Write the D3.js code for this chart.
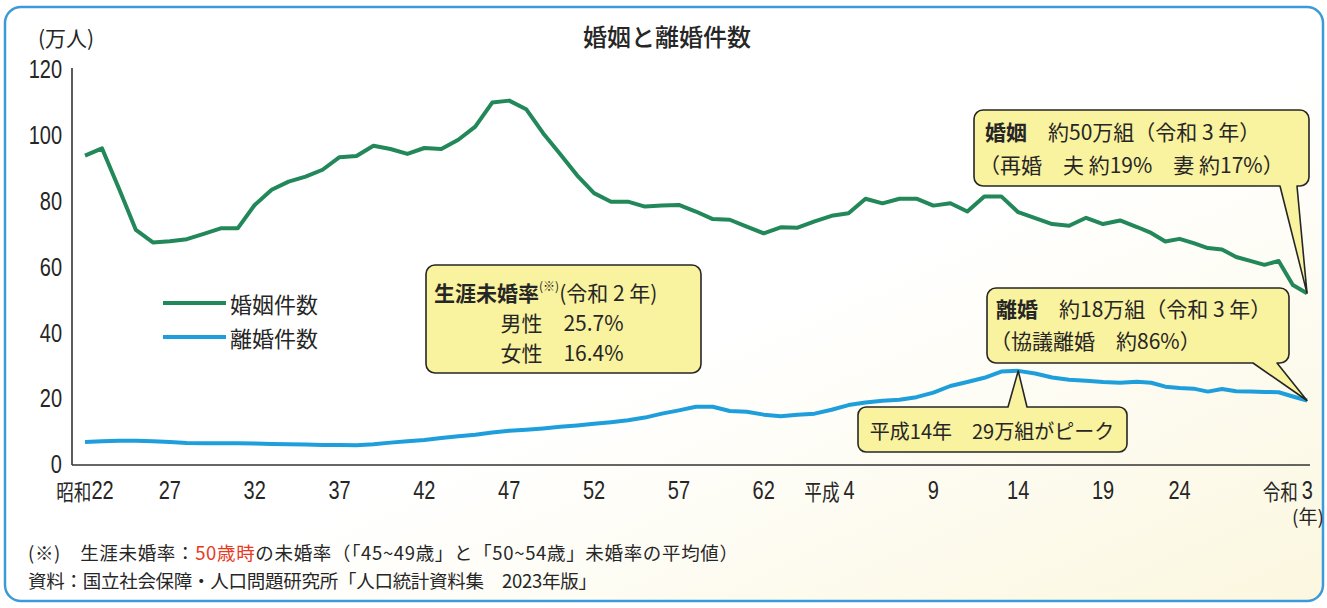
<!DOCTYPE html>
<html><head><meta charset="utf-8">
<script src="https://cdn.jsdelivr.net/npm/d3@7"></script>
<style>
html,body{margin:0;padding:0;background:#fff;}
svg{display:block;}
.cjk{font-family:"Noto Sans CJK JP","Noto Sans",sans-serif;}
.num{font-family:"Liberation Sans","Noto Sans CJK JP",sans-serif;}
</style></head><body>
<svg id="chart" width="1327" height="608"></svg>
<script>
// ---- data (万人) ----
const years = [1947,1948,1949,1950,1951,1952,1953,1954,1955,1956,1957,1958,1959,1960,1961,1962,1963,1964,1965,1966,
  1967,1968,1969,1970,1971,1972,1973,1974,1975,1976,1977,1978,1979,1980,1981,1982,1983,1984,1985,1986,
  1987,1988,1989,1990,1991,1992,1993,1994,1995,1996,1997,1998,1999,2000,2001,2002,2003,2004,2005,2006,
  2007,2008,2009,2010,2011,2012,2013,2014,2015,2016,2017,2018,2019,2020,2021];
const marriages = [94.0,96.2,84.0,71.4,67.6,68.0,68.6,70.2,71.9,71.9,79.0,83.6,86.1,87.6,89.7,93.5,93.9,97.0,96.0,94.5,
  96.3,96.0,98.8,102.8,110.1,110.7,108.1,100.8,94.5,88.0,82.6,80.0,80.0,78.5,78.8,79.0,77.0,74.7,74.5,72.4,
  70.4,72.2,72.1,74.0,75.7,76.5,80.9,79.5,80.9,80.9,78.8,79.5,77.0,81.6,81.6,76.8,75.0,73.2,72.7,75.1,
  73.2,74.3,72.3,70.5,67.9,68.7,67.4,65.9,65.5,63.2,62.0,60.8,62.0,54.7,52.2];
const divorces = [7.0,7.2,7.4,7.4,7.2,7.0,6.7,6.6,6.6,6.6,6.5,6.4,6.3,6.2,6.1,6.1,6.0,6.3,6.8,7.2,
  7.6,8.2,8.7,9.2,9.9,10.4,10.7,11.1,11.6,12.0,12.5,13.0,13.6,14.4,15.6,16.6,17.7,17.7,16.4,16.2,
  15.3,14.8,15.3,15.6,16.8,18.2,19.0,19.5,19.8,20.6,22.0,24.0,25.2,26.5,28.4,28.6,27.8,26.6,25.9,25.6,
  25.2,25.0,25.3,25.0,23.8,23.4,23.2,22.3,23.1,22.4,22.3,22.2,22.1,20.8,19.6];
const xTickYears = [1947,1952,1957,1962,1967,1972,1977,1982,1987,1992,1997,2002,2007,2012,2021];
const xTickLabels = ["昭和22","27","32","37","42","47","52","57","62","平成4","9","14","19","24","令和3"];
const yTicks = [0,20,40,60,80,100,120];
const seriesNames = ["婚姻件数","離婚件数"];

// ---- drawing ----
const svg = d3.select("#chart");
const GREEN = "#22885a", BLUE = "#1e9fdc", YELLOW = "#f9f29e", INK = "#262626";
const NARROW = 0.8;

const defs = svg.append("defs");
const grad = defs.append("linearGradient").attr("id","bg").attr("x1","0").attr("y1","0").attr("x2","1").attr("y2","1");
grad.append("stop").attr("offset","0").attr("stop-color","#ffffff");
grad.append("stop").attr("offset","0.55").attr("stop-color","#ffffff");
grad.append("stop").attr("offset","1").attr("stop-color","#fbf7df");

svg.append("rect").attr("x",5).attr("y",7).attr("width",1318).attr("height",594).attr("rx",16)
  .attr("fill","url(#bg)").attr("stroke","#3d9ad9").attr("stroke-width",2.5);

const x = d3.scaleLinear().domain([1947, 2009, 2021]).range([85, 1137, 1307]);
const y = d3.scaleLinear().domain([0, 120]).range([465, 70]);

// title & unit
svg.append("text").attr("class","cjk").attr("x",667).attr("y",35).attr("text-anchor","middle")
  .attr("dominant-baseline","central").attr("font-size",24).attr("font-weight",500).attr("fill",INK).text("婚姻と離婚件数");
svg.append("text").attr("class","cjk").attr("x",38).attr("y",37).attr("dominant-baseline","central")
  .attr("font-size",21).attr("fill",INK).text("(万人)");

// axes
svg.append("line").attr("x1",72).attr("x2",72).attr("y1",68).attr("y2",y(0)).attr("stroke","#333").attr("stroke-width",1.6);
svg.append("line").attr("x1",72).attr("x2",1310).attr("y1",y(0)).attr("y2",y(0)).attr("stroke","#333").attr("stroke-width",1.6);

svg.append("g").selectAll("text").data(yTicks).join("text")
  .attr("class","num").attr("transform",d=>`translate(62,${y(d)}) scale(${NARROW},1)`)
  .attr("text-anchor","end").attr("dominant-baseline","central").attr("font-size",25).attr("fill",INK).text(d=>d);

const xl = svg.append("g");
xTickYears.forEach((yr,i)=>{
  const lab = xTickLabels[i];
  const m = lab.match(/^(\D*)(\d+)$/);
  const pre = m[1], num = m[2];
  let anchor = "middle", px = x(yr);
  if (pre && i>0) { anchor = "end"; px = x(yr)+6; }
  const t = xl.append("text").attr("transform",`translate(${px},490) scale(${NARROW},1)`).attr("text-anchor",anchor)
    .attr("dominant-baseline","central").attr("fill",INK);
  if (pre) t.append("tspan").attr("class","cjk").attr("font-size",22).text(pre + (i>0?" ":""));
  t.append("tspan").attr("class","num").attr("font-size",25).text(num);
});
svg.append("text").attr("class","cjk").attr("x",1308).attr("y",515).attr("text-anchor","middle")
  .attr("dominant-baseline","central").attr("font-size",19).attr("fill",INK).text("(年)");

// lines
const line = d3.line().x((d,i)=>x(years[i])).y(d=>y(d));
svg.append("path").attr("d",line(marriages)).attr("fill","none").attr("stroke",GREEN)
  .attr("stroke-width",4).attr("stroke-linejoin","round");
svg.append("path").attr("d",line(divorces)).attr("fill","none").attr("stroke",BLUE)
  .attr("stroke-width",4).attr("stroke-linejoin","round");

// legend
[[GREEN,303],[BLUE,337]].forEach(([c,ly],i)=>{
  svg.append("line").attr("x1",163).attr("x2",226).attr("y1",ly).attr("y2",ly).attr("stroke",c).attr("stroke-width",4);
  svg.append("text").attr("class","cjk").attr("x",230).attr("y",ly).attr("dominant-baseline","central")
    .attr("font-size",22).attr("fill",INK).text(seriesNames[i]);
});

// callout helper
function bubble(b){
  const {x0,y0,w,h,r,side,b1,b2,tx,ty} = b;
  let p = `M${x0+r},${y0} `;
  if (side==="top") p += `H${b1} L${tx},${ty} L${b2},${y0} `;
  p += `H${x0+w-r} A${r},${r} 0 0 1 ${x0+w},${y0+r} V${y0+h-r} A${r},${r} 0 0 1 ${x0+w-r},${y0+h} `;
  if (side==="bottom") p += `H${b2} L${tx},${ty} L${b1},${y0+h} `;
  p += `H${x0+r} A${r},${r} 0 0 1 ${x0},${y0+h-r} V${y0+r} A${r},${r} 0 0 1 ${x0+r},${y0} Z`;
  svg.append("path").attr("d",p).attr("fill",YELLOW).attr("stroke",INK).attr("stroke-width",1.6).attr("stroke-linejoin","round");
}
const last = years.length-1;
const peakIdx = divorces.indexOf(d3.max(divorces.slice(50,56)));

// 生涯未婚率 box
bubble({x0:426,y0:265,w:275,h:108,r:9,side:"none"});
const t1 = svg.append("text").attr("class","cjk").attr("x",434).attr("y",292).attr("dominant-baseline","central").attr("fill",INK).attr("font-size",21);
t1.append("tspan").attr("font-weight",700).text("生涯未婚率");
t1.append("tspan").attr("font-size",12).attr("dy",-7).text("(※)");
t1.append("tspan").attr("dy",7).text("(令和 2 年)");
svg.append("text").attr("class","cjk").attr("x",562).attr("y",322).attr("text-anchor","middle").attr("dominant-baseline","central")
  .attr("font-size",21).attr("fill",INK).text("男性　25.7%");
svg.append("text").attr("class","cjk").attr("x",562).attr("y",352).attr("text-anchor","middle").attr("dominant-baseline","central")
  .attr("font-size",21).attr("fill",INK).text("女性　16.4%");

// 婚姻 callout
bubble({x0:974,y0:110,w:335,h:76,r:9,side:"bottom",b1:1280,b2:1297,tx:x(years[last]),ty:y(marriages[last])});
const t2 = svg.append("text").attr("class","cjk").attr("x",985).attr("y",131).attr("dominant-baseline","central").attr("font-size",21).attr("fill",INK);
t2.append("tspan").attr("font-weight",700).text("婚姻");
t2.append("tspan").text("　約50万組（令和 3 年）");
svg.append("text").attr("class","cjk").attr("x",979).attr("y",164).attr("dominant-baseline","central").attr("font-size",21).attr("fill",INK)
  .text("（再婚　夫 約19%　妻 約17%）");

// 離婚 callout
bubble({x0:987,y0:288,w:302,h:75,r:9,side:"bottom",b1:1253,b2:1277,tx:x(years[last]),ty:y(divorces[last])});
const t3 = svg.append("text").attr("class","cjk").attr("x",996).attr("y",308).attr("dominant-baseline","central").attr("font-size",21).attr("fill",INK);
t3.append("tspan").attr("font-weight",700).text("離婚");
t3.append("tspan").text("　約18万組（令和 3 年）");
svg.append("text").attr("class","cjk").attr("x",990).attr("y",340).attr("dominant-baseline","central").attr("font-size",21).attr("fill",INK)
  .text("（協議離婚　約86%）");

// peak callout
bubble({x0:858,y0:407,w:269,h:45,r:8,side:"top",b1:1008,b2:1027,tx:x(years[peakIdx]),ty:y(divorces[peakIdx])});
svg.append("text").attr("class","cjk").attr("x",992).attr("y",430).attr("text-anchor","middle").attr("dominant-baseline","central")
  .attr("font-size",20).attr("fill",INK).text("平成14年　29万組がピーク");

// footnotes
const f1 = svg.append("text").attr("class","cjk").attr("x",28).attr("y",552).attr("dominant-baseline","central").attr("font-size",18.5).attr("fill",INK)
  .attr("textLength",710).attr("lengthAdjust","spacing");
f1.append("tspan").text("(※)　生涯未婚率：");
f1.append("tspan").attr("fill","#e8391e").text("50歳時");
f1.append("tspan").text("の未婚率（「45~49歳」と「50~54歳」未婚率の平均値）");
svg.append("text").attr("class","cjk").attr("x",28).attr("y",580).attr("dominant-baseline","central").attr("font-size",18.5).attr("fill",INK)
  .attr("textLength",569).attr("lengthAdjust","spacing")
  .text("資料：国立社会保障・人口問題研究所「人口統計資料集　2023年版」");
</script>
</body></html>
